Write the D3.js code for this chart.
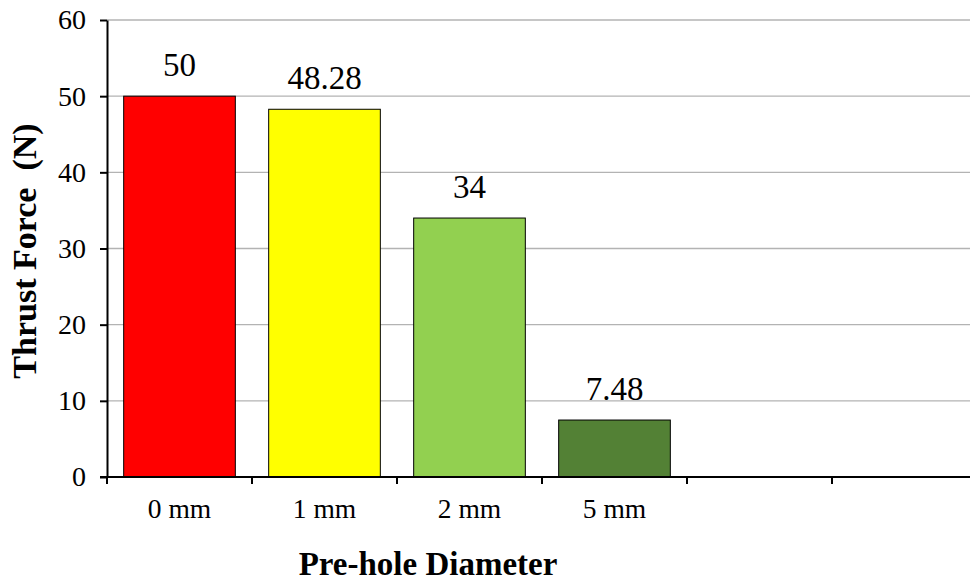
<!DOCTYPE html>
<html>
<head>
<meta charset="utf-8">
<script src="https://cdn.jsdelivr.net/npm/d3@7"></script>
<style>
  body { margin: 0; background: #fff; }
  svg text { font-family: "Liberation Serif", "Times New Roman", serif; }
</style>
</head>
<body>
<svg width="970" height="582" font-family="Liberation Serif"></svg>
<script>
// data
const categories = ["0 mm", "1 mm", "2 mm", "5 mm", "", " "];
const values = [50, 48.28, 34, 7.48, null, null];
const barColors = ["#ff0000", "#ffff00", "#92d050", "#538135"];
const yTicks = [0, 10, 20, 30, 40, 50, 60];

let svg = d3.select("svg"),
  plotLeft = 107,
  plotRight = 977,
  plotTop = 20,
  plotBottom = 477,
  serif = "Liberation Serif";

let x = d3.scaleBand().domain(categories).range([plotLeft, plotRight]).paddingInner(0.23).paddingOuter(0.115);
let y = d3.scaleLinear().domain([0, 60]).range([plotBottom, plotTop]);

// gridlines
svg.append("g")
  .selectAll("line")
  .data(yTicks.filter((d) => d > 0))
  .enter()
  .append("line")
  .attr("x1", plotLeft)
  .attr("x2", 970)
  .attr("y1", (d) => y(d))
  .attr("y2", (d) => y(d))
  .attr("stroke", "#b3b3b3")
  .attr("stroke-width", 1.3);

// bars
let rows = categories.map((c, i) => ({ cat: c, v: values[i], col: barColors[i] })).filter((d) => d.v != null);

svg.append("g")
  .selectAll("rect")
  .data(rows)
  .enter()
  .append("rect")
  .attr("x", (d) => x(d.cat))
  .attr("y", (d) => y(d.v))
  .attr("width", x.bandwidth())
  .attr("height", (d) => y(0) - y(d.v))
  .attr("fill", (d) => d.col)
  .attr("stroke", "#000")
  .attr("stroke-width", 1);

svg.append("g")
  .selectAll("text")
  .data(rows)
  .enter()
  .append("text")
  .attr("x", (d) => x(d.cat) + x.bandwidth() / 2)
  .attr("y", (d) => y(d.v) - 20)
  .attr("text-anchor", "middle")
  .attr("font-family", serif)
  .attr("font-size", 33)
  .attr("fill", "#000")
  .text((d) => d.v);

// y axis
let yAxis = svg.append("g")
  .attr("transform", `translate(${plotLeft},0)`)
  .call(d3.axisLeft(y).tickValues(yTicks).tickSize(7).tickPadding(14).tickSizeOuter(0))
  .attr("font-family", serif);
yAxis.select(".domain").attr("stroke", "#000").attr("stroke-width", 2);
yAxis.selectAll(".tick line").attr("stroke", "#000").attr("stroke-width", 2);
yAxis.selectAll("text").attr("font-size", 28).attr("fill", "#000").attr("font-family", serif);

// x axis
let xAxis = svg.append("g")
  .attr("transform", `translate(0,${plotBottom})`);
xAxis.append("line")
  .attr("x1", plotLeft - 7)
  .attr("x2", 970)
  .attr("stroke", "#000")
  .attr("stroke-width", 2);
let step = x.step();
xAxis.selectAll(".tk")
  .data(d3.range(categories.length + 1))
  .enter()
  .append("line")
  .attr("x1", (i) => plotLeft + i * step)
  .attr("x2", (i) => plotLeft + i * step)
  .attr("y1", 0)
  .attr("y2", 7)
  .attr("stroke", "#000")
  .attr("stroke-width", 2);
xAxis.selectAll(".lbl")
  .data(categories.filter((c) => c.trim() !== ""))
  .enter()
  .append("text")
  .attr("x", (c) => x(c) + x.bandwidth() / 2)
  .attr("y", 41)
  .attr("text-anchor", "middle")
  .attr("font-family", serif)
  .attr("font-size", 27.5)
  .attr("fill", "#000")
  .text((c) => c);

// axis titles
svg.append("text")
  .attr("transform", "translate(36,251) rotate(-90)")
  .attr("text-anchor", "middle")
  .attr("font-family", serif)
  .attr("font-size", 34)
  .attr("font-weight", "bold")
  .style("white-space", "pre")
  .text("Thrust Force  (N)");

svg.append("text")
  .attr("x", 428)
  .attr("y", 575)
  .attr("text-anchor", "middle")
  .attr("font-family", serif)
  .attr("font-size", 33)
  .attr("font-weight", "bold")
  .text("Pre-hole Diameter");
</script>
</body>
</html>
